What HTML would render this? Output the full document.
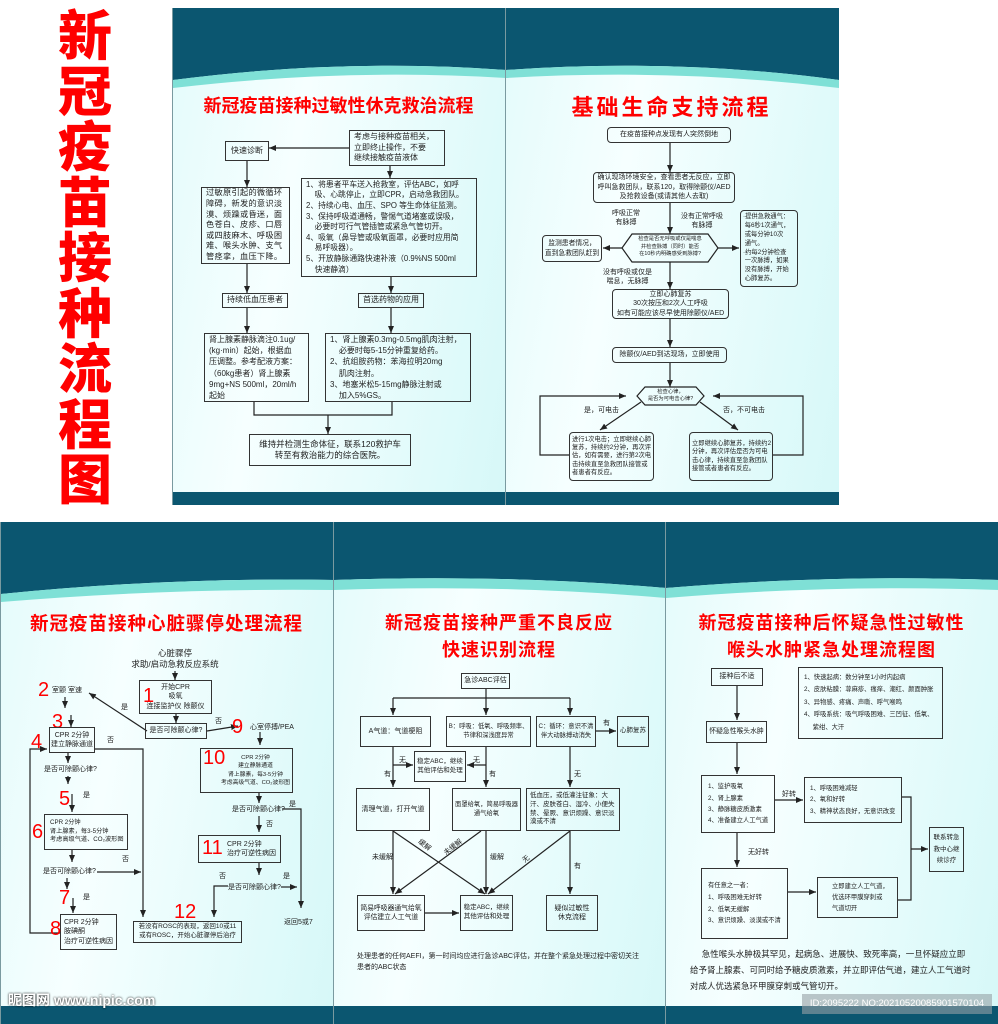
<!DOCTYPE html>
<html><head><meta charset="utf-8">
<style>
*{margin:0;padding:0}
body{width:998px;height:1024px;position:relative;background:#fff;overflow:hidden;font-family:"Liberation Sans","Noto Sans CJK SC",sans-serif;color:#222}
.p{position:absolute;background:linear-gradient(100deg,#e4fbfb 0%,#f6ffff 35%,#d6f8f8 100%);border-left:1px solid #7a9aa0;overflow:hidden}
.p svg{position:absolute;left:0;top:0}
.b{position:absolute;border:1.2px solid #333;box-sizing:border-box;font-size:8px;line-height:1.35;display:flex;align-items:center;justify-content:center;text-align:center;background:transparent;overflow:hidden}
.l{justify-content:flex-start;text-align:left;padding-left:4px}
.r{border-radius:4px}
.t{position:absolute;font-size:8px;line-height:1.35;white-space:nowrap}
.red{position:absolute;color:#f00;font-weight:bold;white-space:nowrap;text-align:center}
.n{position:absolute;color:#f00;font-size:20px;line-height:1}
#ov{position:absolute;left:0;top:0;z-index:5}
.b,.t,.n,.red{z-index:6}
</style></head><body>

<div class="red" style="left:52px;top:4px;width:66px;font-size:54px;line-height:55.5px;font-family:'Noto Sans CJK SC',sans-serif;font-weight:900">新<br>冠<br>疫<br>苗<br>接<br>种<br>流<br>程<br>图</div>

<div class="p" style="left:172px;top:8px;width:333px;height:497px"><svg width="333" height="497"><path d="M0,0H333V62Q170,50 0,72Z" fill="#0b5670"/><path d="M0,72Q170,50 333,62V70Q170,60 0,80Z" fill="#7fe0d6"/><rect y="484" width="333" height="13" fill="#0b5670"/></svg></div>
<div class="p" style="left:505px;top:8px;width:333px;height:497px"><svg width="333" height="497"><path d="M0,0H333V72Q170,50 0,62Z" fill="#0b5670"/><path d="M0,62Q170,50 333,72V80Q170,60 0,70Z" fill="#7fe0d6"/><rect y="484" width="333" height="13" fill="#0b5670"/></svg></div>
<div class="p" style="left:0;top:522px;width:333px;height:502px"><svg width="333" height="502"><path d="M0,0H333V58Q170,55 0,72Z" fill="#0b5670"/><path d="M0,72Q170,55 333,58V68Q170,66 0,80Z" fill="#7fe0d6"/><rect y="484" width="333" height="18" fill="#0b5670"/></svg></div>
<div class="p" style="left:333px;top:522px;width:332px;height:502px"><svg width="332" height="502"><path d="M0,0H332V66Q170,52 0,58Z" fill="#0b5670"/><path d="M0,58Q170,52 332,66V76Q170,62 0,68Z" fill="#7fe0d6"/><rect y="484" width="332" height="18" fill="#0b5670"/></svg></div>
<div class="p" style="left:665px;top:522px;width:333px;height:502px"><svg width="333" height="502"><path d="M0,0H333V58Q170,52 0,66Z" fill="#0b5670"/><path d="M0,66Q170,52 333,58V68Q170,62 0,76Z" fill="#7fe0d6"/><rect y="484" width="333" height="18" fill="#0b5670"/></svg></div>

<svg id="ov" width="998" height="1024" fill="none" stroke="#222" stroke-width="1.2">
<defs><marker id="a" markerWidth="8" markerHeight="8" refX="7" refY="4" orient="auto" markerUnits="userSpaceOnUse"><path d="M0,1L7,4L0,7Z" fill="#222" stroke="none"/></marker></defs>
<path d="M349,148H269" marker-end="url(#a)"/>
<path d="M247,161V187" marker-end="url(#a)"/>
<path d="M390,166V178" marker-end="url(#a)"/>
<path d="M247,264V293" marker-end="url(#a)"/>
<path d="M391,277V293" marker-end="url(#a)"/>
<path d="M247,308V333" marker-end="url(#a)"/>
<path d="M391,308V333" marker-end="url(#a)"/>
<path d="M254,402V415H392V402"/>
<path d="M328,415V434" marker-end="url(#a)"/>
<path d="M670,143V172" marker-end="url(#a)"/>
<path d="M670,203V234" marker-end="url(#a)"/>
<path d="M622,248H603" marker-end="url(#a)"/>
<path d="M718,248H739" marker-end="url(#a)"/>
<path d="M670,262V289" marker-end="url(#a)"/>
<path d="M670,319V347" marker-end="url(#a)"/>
<path d="M670,363V387" marker-end="url(#a)"/>
<path d="M641,402L600,430" marker-end="url(#a)"/>
<path d="M700,402L738,430" marker-end="url(#a)"/>
<path d="M569,455H540V396H626" marker-end="url(#a)"/>
<path d="M773,455H803V396H713" marker-end="url(#a)"/>
<path d="M622,248L632,234H708L718,248L708,262H632Z"/>
<path d="M637,396L645,387H696L704,396L696,405H645Z"/>
<path d="M175,671V680" marker-end="url(#a)"/>
<path d="M176,714V723" marker-end="url(#a)"/>
<path d="M147,731L89,693" marker-end="url(#a)"/>
<path d="M207,731L238,726" marker-end="url(#a)"/>
<path d="M65,697V708" marker-end="url(#a)"/>
<path d="M71,715V727" marker-end="url(#a)"/>
<path d="M260,732V745" marker-end="url(#a)"/>
<path d="M95,749H143V917" marker-end="url(#a)"/>
<path d="M68,753V763" marker-end="url(#a)"/>
<path d="M68,776V784" marker-end="url(#a)"/>
<path d="M72,794V812" marker-end="url(#a)"/>
<path d="M72,850V862" marker-end="url(#a)"/>
<path d="M97,872H141" marker-end="url(#a)"/>
<path d="M67,878V889" marker-end="url(#a)"/>
<path d="M73,898V913" marker-end="url(#a)"/>
<path d="M60,933H30V749H47" marker-end="url(#a)"/>
<path d="M259,793V803" marker-end="url(#a)"/>
<path d="M282,809H301V908" marker-end="url(#a)"/>
<path d="M259,816V832" marker-end="url(#a)"/>
<path d="M259,863V875" marker-end="url(#a)"/>
<path d="M281,887H297" marker-end="url(#a)"/>
<path d="M228,886H214V917" marker-end="url(#a)"/>
<path d="M486,689V698"/>
<path d="M393,698H570"/>
<path d="M393,698V715" marker-end="url(#a)"/>
<path d="M486,698V715" marker-end="url(#a)"/>
<path d="M570,698V715" marker-end="url(#a)"/>
<path d="M596,731H616" marker-end="url(#a)"/>
<path d="M393,747V787" marker-end="url(#a)"/>
<path d="M393,765H413" marker-end="url(#a)"/>
<path d="M486,747V787" marker-end="url(#a)"/>
<path d="M486,765H467" marker-end="url(#a)"/>
<path d="M570,747V787" marker-end="url(#a)"/>
<path d="M393,831V894" marker-end="url(#a)"/>
<path d="M393,831L485,894" marker-end="url(#a)"/>
<path d="M481,831L395,894" marker-end="url(#a)"/>
<path d="M486,831V894" marker-end="url(#a)"/>
<path d="M570,831L488,894" marker-end="url(#a)"/>
<path d="M570,831V894" marker-end="url(#a)"/>
<path d="M425,913H459" marker-end="url(#a)"/>
<path d="M737,686V720" marker-end="url(#a)"/>
<path d="M737,743V774" marker-end="url(#a)"/>
<path d="M775,800H803" marker-end="url(#a)"/>
<path d="M737,833V867" marker-end="url(#a)"/>
<path d="M788,892H816" marker-end="url(#a)"/>
<path d="M902,797H911V900H898"/>
<path d="M911,849H928" marker-end="url(#a)"/>
</svg>

<div class="red" style="left:172px;top:92px;width:333px;font-size:18px">新冠疫苗接种过敏性休克救治流程</div>
<div class="b l" style="left:349px;top:130px;width:96px;height:36px;font-size:8px">考虑与接种疫苗相关，<br>立即终止操作，不要<br>继续接触疫苗液体</div>
<div class="b" style="left:225px;top:141px;width:44px;height:20px">快速诊断</div>
<div class="b l" style="left:201px;top:187px;width:89px;height:77px;font-size:8.2px;line-height:1.3;letter-spacing:0.3px">过敏原引起的微循环<br>障碍，新发的意识淡<br>漠、烦躁或昏迷，面<br>色苍白、皮疹、口唇<br>或四肢麻木、呼吸困<br>难、喉头水肿、支气<br>管痉挛，血压下降。</div>
<div class="b l" style="left:301px;top:178px;width:176px;height:99px;font-size:7.8px;line-height:1.36">1、将患者平车送入抢救室，评估ABC，如呼<br>&nbsp;&nbsp;&nbsp;&nbsp;吸、心跳停止，立即CPR，启动急救团队。<br>2、持续心电、血压、SPO 等生命体征监测。<br>3、保持呼吸道通畅，警惕气道堵塞或误吸，<br>&nbsp;&nbsp;&nbsp;&nbsp;必要时可行气管插管或紧急气管切开。<br>4、吸氧（鼻导管或吸氧面罩，必要时应用简<br>&nbsp;&nbsp;&nbsp;&nbsp;易呼吸器）。<br>5、开放静脉通路快速补液（0.9%NS 500ml<br>&nbsp;&nbsp;&nbsp;&nbsp;快速静滴）</div>
<div class="b" style="left:222px;top:293px;width:66px;height:15px">持续低血压患者</div>
<div class="b" style="left:358px;top:293px;width:66px;height:15px">首选药物的应用</div>
<div class="b l" style="left:204px;top:333px;width:105px;height:69px;font-size:8px;line-height:1.4">肾上腺素静脉滴注0.1ug/<br>(kg·min）起始，根据血<br>压调整。参考配液方案：<br>（60kg患者）肾上腺素<br>9mg+NS 500ml，20ml/h<br>起始</div>
<div class="b l" style="left:325px;top:333px;width:146px;height:69px;font-size:8px;line-height:1.4">1、肾上腺素0.3mg-0.5mg肌肉注射，<br>&nbsp;&nbsp;&nbsp;&nbsp;必要时每5-15分钟重复给药。<br>2、抗组胺药物：苯海拉明20mg<br>&nbsp;&nbsp;&nbsp;&nbsp;肌肉注射。<br>3、地塞米松5-15mg静脉注射或<br>&nbsp;&nbsp;&nbsp;&nbsp;加入5%GS。</div>
<div class="b" style="left:249px;top:434px;width:162px;height:32px;font-size:8.5px">维持并检测生命体征，联系120救护车<br>转至有救治能力的综合医院。</div>

<div class="red" style="left:505px;top:90px;width:333px;font-size:22px;letter-spacing:3px">基础生命支持流程</div>
<div class="b r" style="left:607px;top:127px;width:124px;height:16px;font-size:7px">在疫苗接种点发现有人突然倒地</div>
<div class="b r" style="left:593px;top:172px;width:142px;height:31px;font-size:7px">确认现场环境安全，查看患者无反应，立即<br>呼叫急救团队，联系120，取得除颤仪/AED<br>及抢救设备(或请其他人去取)</div>
<div class="t" style="left:612px;top:209px;font-size:7px;text-align:center">呼吸正常<br>有脉搏</div>
<div class="t" style="left:681px;top:212px;font-size:7px;text-align:center">没有正常呼吸<br>有脉搏</div>
<div class="t" style="left:632px;top:236px;width:76px;font-size:5.3px;text-align:center;line-height:1.45">检查是否无呼吸或仅是喘息<br>并检查脉搏（同时）能否<br>在10秒内明确感受到脉搏?</div>
<div class="b r" style="left:542px;top:235px;width:60px;height:27px;font-size:6.8px">监测患者情况，<br>直到急救团队赶到</div>
<div class="b r l" style="left:740px;top:210px;width:58px;height:77px;font-size:6.3px;line-height:1.4;padding-left:2px">·提供急救通气：<br>&nbsp;每6秒1次通气，<br>&nbsp;或每分钟10次<br>&nbsp;通气。<br>·约每2分钟检查<br>&nbsp;一次脉搏，如果<br>&nbsp;没有脉搏，开始<br>&nbsp;心肺复苏。</div>
<div class="t" style="left:603px;top:268px;font-size:7px;text-align:center">没有呼吸或仅是<br>喘息，无脉搏</div>
<div class="b r" style="left:612px;top:289px;width:117px;height:30px;font-size:7px">立即心肺复苏<br>30次按压和2次人工呼吸<br>如有可能应该尽早使用除颤仪/AED</div>
<div class="b r" style="left:612px;top:347px;width:115px;height:16px;font-size:7px">除颤仪/AED到达现场，立即使用</div>
<div class="t" style="left:645px;top:389px;width:51px;font-size:5.3px;text-align:center;line-height:1.35">检查心律，<br>是否为可电击心律?</div>
<div class="t" style="left:584px;top:406px;font-size:7px">是，可电击</div>
<div class="t" style="left:723px;top:406px;font-size:7px">否，不可电击</div>
<div class="b r l" style="left:569px;top:432px;width:85px;height:49px;font-size:6.3px;line-height:1.3;padding-left:2px">进行1次电击；立即继续心肺复苏，持续约2分钟，再次评估，如有需要，进行第2次电击持续直至急救团队接管或者患者有反应。</div>
<div class="b r l" style="left:689px;top:432px;width:84px;height:49px;font-size:6.3px;line-height:1.3;padding-left:2px">立即继续心肺复苏，持续约2分钟，再次评估是否为可电击心律，持续直至急救团队接管或者患者有反应。</div>

<div class="red" style="left:0;top:610px;width:333px;font-size:18.5px;letter-spacing:1px">新冠疫苗接种心脏骤停处理流程</div>
<div class="t" style="left:120px;top:648px;width:110px;text-align:center;font-size:8.5px">心脏骤停<br>求助/启动急救反应系统</div>
<div class="b" style="left:139px;top:680px;width:73px;height:34px;font-size:7px">开始CPR<br>吸氧<br>连接监护仪 除颤仪</div>
<div class="n" style="left:143px;top:686px">1</div>
<div class="b" style="left:145px;top:723px;width:62px;height:16px;font-size:7px">是否可除颤心律?</div>
<div class="n" style="left:38px;top:680px">2</div><div class="t" style="left:52px;top:686px;font-size:7px">室颤 室速</div>
<div class="t" style="left:121px;top:703px;font-size:7px">是</div>
<div class="t" style="left:215px;top:717px;font-size:7px">否</div>
<div class="n" style="left:52px;top:712px">3</div>
<div class="n" style="left:232px;top:717px">9</div><div class="t" style="left:250px;top:723px;font-size:7px">心室停搏/PEA</div>
<div class="n" style="left:31px;top:732px">4</div>
<div class="b" style="left:49px;top:727px;width:46px;height:26px;font-size:7px">CPR 2分钟<br>建立静脉通道</div>
<div class="t" style="left:107px;top:736px;font-size:7px">否</div>
<div class="b" style="left:200px;top:748px;width:93px;height:45px;font-size:5.8px;line-height:1.4;padding-left:18px;white-space:nowrap">CPR 2分钟<br>建立静脉通道<br>肾上腺素，每3-5分钟<br>考虑高级气道、CO₂波形图</div>
<div class="n" style="left:203px;top:748px">10</div>
<div class="t" style="left:44px;top:765px;font-size:7px">是否可除颤心律?</div>
<div class="n" style="left:59px;top:789px">5</div><div class="t" style="left:83px;top:791px;font-size:7px">是</div>
<div class="t" style="left:232px;top:805px;font-size:7px">是否可除颤心律?</div>
<div class="t" style="left:289px;top:800px;font-size:7px">是</div>
<div class="b l" style="left:44px;top:814px;width:84px;height:36px;font-size:6.2px;padding-left:5px">CPR 2分钟<br>肾上腺素，每3-5分钟<br>考虑高级气道、CO₂波形图</div>
<div class="n" style="left:32px;top:822px">6</div>
<div class="t" style="left:266px;top:820px;font-size:7px">否</div>
<div class="b l" style="left:198px;top:835px;width:83px;height:28px;font-size:7px;padding-left:28px">CPR 2分钟<br>治疗可逆性病因</div>
<div class="n" style="left:202px;top:838px">11</div>
<div class="t" style="left:122px;top:855px;font-size:7px">否</div>
<div class="t" style="left:43px;top:867px;font-size:7px">是否可除颤心律?</div>
<div class="t" style="left:219px;top:872px;font-size:7px">否</div><div class="t" style="left:283px;top:872px;font-size:7px">是</div>
<div class="t" style="left:228px;top:883px;font-size:7px">是否可除颤心律?</div>
<div class="n" style="left:59px;top:888px">7</div><div class="t" style="left:83px;top:893px;font-size:7px">是</div>
<div class="n" style="left:174px;top:902px">12</div>
<div class="b l" style="left:60px;top:914px;width:57px;height:36px;font-size:7px;padding-left:3px">CPR 2分钟<br>胺碘酮<br>治疗可逆性病因</div>
<div class="n" style="left:50px;top:919px">8</div>
<div class="b" style="left:133px;top:921px;width:109px;height:22px;font-size:6.5px">若没有ROSC的表现，返回10或11<br>或有ROSC，开始心脏骤停后治疗</div>
<div class="t" style="left:284px;top:918px;font-size:7px">返回5或7</div>

<div class="red" style="left:333px;top:610px;width:332px;font-size:18px;line-height:27px;letter-spacing:1px">新冠疫苗接种严重不良反应<br>快速识别流程</div>
<div class="b" style="left:461px;top:673px;width:49px;height:16px;font-size:7px">急诊ABC评估</div>
<div class="b" style="left:360px;top:716px;width:71px;height:31px;font-size:7px">A气道：气道梗阻</div>
<div class="b" style="left:446px;top:716px;width:85px;height:31px;font-size:6.3px">B：呼吸：低氧、呼吸频率、<br>节律和深浅度异常</div>
<div class="b" style="left:536px;top:716px;width:60px;height:31px;font-size:6.3px">C：循环：意识不清<br>伴大动脉搏动消失</div>
<div class="b" style="left:617px;top:716px;width:32px;height:31px;font-size:6.5px">心肺复苏</div>
<div class="t" style="left:603px;top:719px;font-size:7px">有</div>
<div class="b" style="left:414px;top:751px;width:52px;height:31px;font-size:6.5px">稳定ABC，继续<br>其他评估和处理</div>
<div class="t" style="left:399px;top:756px;font-size:7px">无</div><div class="t" style="left:473px;top:756px;font-size:7px">无</div>
<div class="t" style="left:384px;top:770px;font-size:7px">有</div><div class="t" style="left:489px;top:770px;font-size:7px">有</div>
<div class="t" style="left:574px;top:770px;font-size:7px">无</div>
<div class="b" style="left:356px;top:788px;width:74px;height:43px;font-size:7px">清理气道，打开气道</div>
<div class="b" style="left:452px;top:788px;width:69px;height:43px;font-size:6.3px;white-space:nowrap">面罩给氧，简易呼吸器<br>通气给氧</div>
<div class="b l" style="left:526px;top:788px;width:94px;height:43px;font-size:6.5px;padding-left:3px">低血压，或低灌注征象：大汗、皮肤苍白、湿冷、小便失禁、晕厥、意识烦躁、意识淡漠或不清</div>
<div class="t" style="left:372px;top:853px;font-size:7px">未缓解</div>
<div class="t" style="left:417px;top:841px;font-size:7px;transform:rotate(38deg)">缓解</div>
<div class="t" style="left:443px;top:843px;font-size:7px;transform:rotate(-38deg)">未缓解</div>
<div class="t" style="left:490px;top:853px;font-size:7px">缓解</div>
<div class="t" style="left:523px;top:855px;font-size:7px;transform:rotate(-38deg)">无</div>
<div class="t" style="left:574px;top:862px;font-size:7px">有</div>
<div class="b" style="left:357px;top:895px;width:68px;height:36px;font-size:6.8px">简易呼吸器通气给氧<br>评估建立人工气道</div>
<div class="b" style="left:460px;top:895px;width:53px;height:36px;font-size:6.5px">稳定ABC，继续<br>其他评估和处理</div>
<div class="b" style="left:546px;top:895px;width:52px;height:36px;font-size:7px">疑似过敏性<br>休克流程</div>
<div class="t" style="left:357px;top:951px;font-size:7px;line-height:1.6">处理患者的任何AEFI，第一时间均应进行急诊ABC评估，并在整个紧急处理过程中密切关注<br>患者的ABC状态</div>

<div class="red" style="left:665px;top:610px;width:333px;font-size:18px;line-height:27px;letter-spacing:1px">新冠疫苗接种后怀疑急性过敏性<br>喉头水肿紧急处理流程图</div>
<div class="b" style="left:711px;top:668px;width:52px;height:18px;font-size:7px">接种后不适</div>
<div class="b l" style="left:798px;top:667px;width:145px;height:72px;font-size:6.3px;line-height:2;padding-left:5px">1、快速起病：数分钟至1小时内起病<br>2、皮肤粘膜：荨麻疹、瘙痒、潮红、颜面肿胀<br>3、异物感、疼痛、声嘶、呼气喉鸣<br>4、呼吸系统：吸气呼吸困难、三凹征、低氧、<br>&nbsp;&nbsp;&nbsp;&nbsp;&nbsp;紫绀、大汗</div>
<div class="b" style="left:706px;top:721px;width:61px;height:22px;font-size:6.8px">怀疑急性喉头水肿</div>
<div class="b l" style="left:701px;top:775px;width:74px;height:58px;font-size:6.3px;line-height:1.8;padding-left:6px">1、监护吸氧<br>2、肾上腺素<br>3、静脉糖皮质激素<br>4、准备建立人工气道</div>
<div class="t" style="left:782px;top:790px;font-size:7px">好转</div>
<div class="b l" style="left:804px;top:777px;width:98px;height:46px;font-size:6.3px;line-height:1.8;padding-left:5px">1、呼吸困难减轻<br>2、氧和好转<br>3、精神状态良好，无意识改变</div>
<div class="t" style="left:748px;top:848px;font-size:7px">无好转</div>
<div class="b" style="left:929px;top:827px;width:35px;height:45px;font-size:6.5px;line-height:1.8">联系转急<br>救中心继<br>续诊疗</div>
<div class="b l" style="left:701px;top:868px;width:87px;height:71px;font-size:6.3px;line-height:1.85;padding-left:6px">有任意之一者：<br>1、呼吸困难无好转<br>2、低氧无缓解<br>3、意识烦躁、淡漠或不清</div>
<div class="b l" style="left:817px;top:877px;width:81px;height:41px;font-size:6.3px;line-height:1.8;padding-left:14px">立即建立人工气道，<br>优选环甲膜穿刺或<br>气道切开</div>
<div class="t" style="left:690px;top:946px;font-size:8.5px;line-height:1.9">&nbsp;&nbsp;&nbsp;&nbsp;&nbsp;急性喉头水肿极其罕见，起病急、进展快、致死率高，一旦怀疑应立即<br>给予肾上腺素、可同时给予糖皮质激素，并立即评估气道，建立人工气道时<br>对成人优选紧急环甲膜穿刺或气管切开。</div>

<div class="t" style="left:8px;top:991px;font-size:14px;color:#fff;font-weight:bold;text-shadow:0 0 2px #000">昵图网 www.nipic.com</div>
<div class="t" style="left:802px;top:994px;width:190px;height:20px;background:rgba(150,160,165,0.6);color:#fff;font-size:9.5px;line-height:20px;text-align:center">ID:2095222 NO:20210520085901570104</div>
</body></html>
